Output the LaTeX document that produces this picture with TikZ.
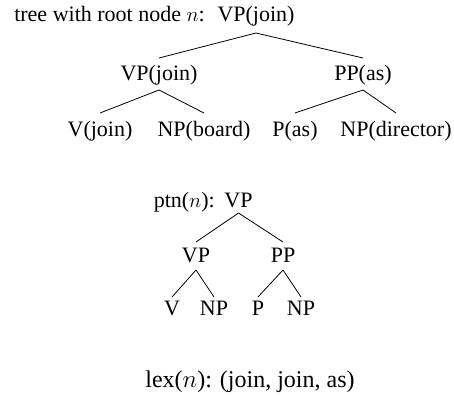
\documentclass[tikz,border=0pt]{standalone}
\usepackage{fontspec}
\setmainfont{Liberation Serif}
\begin{document}
\begin{tikzpicture}[x=1pt,y=-1pt,
  lbl/.style={anchor=base,inner sep=0pt,font=\fontsize{22}{25}\selectfont},
  big/.style={anchor=base,inner sep=0pt,font=\fontsize{24}{28}\selectfont},
  edge/.style={line width=0.8pt}]
\useasboundingbox (0,0) rectangle (454,396);
% tree 1
\node[lbl] (r) at (256,22) {VP(join)};
\node[lbl,anchor=base east] (t1) at (205,22) {tree with root node $n$:};
\node[lbl] (a) at (159,80) {VP(join)};
\node[lbl] (b) at (363,80) {PP(as)};
\node[lbl] (a1) at (100,136) {V(join)};
\node[lbl] (a2) at (204,136) {NP(board)};
\node[lbl] (b1) at (295,136) {P(as)};
\node[lbl] (b2) at (396,136) {NP(director)};
\draw[edge] ([yshift=-11]r.base) -- ([yshift=22]a.base);
\draw[edge] ([yshift=-11]r.base) -- ([yshift=22]b.base);
\draw[edge] ([yshift=-10]a.base) -- ([yshift=23]a1.base);
\draw[edge] ([yshift=-10]a.base) -- ([yshift=23]a2.base);
\draw[edge] ([yshift=-10]b.base) -- ([yshift=23]b1.base);
\draw[edge] ([yshift=-10]b.base) -- ([yshift=23]b2.base);
% tree 2
\node[lbl] (p) at (238.5,207) {VP};
\node[lbl,anchor=base east] (t2) at (215,207) {ptn($n$):};
\node[lbl] (c) at (196,262) {VP};
\node[lbl] (d) at (283,262) {PP};
\node[lbl] (c1) at (172,315) {V};
\node[lbl] (c2) at (214,315) {NP};
\node[lbl] (d1) at (258,315) {P};
\node[lbl] (d2) at (301,315) {NP};
\draw[edge] ([yshift=-6]p.base) -- ([yshift=20]c.base);
\draw[edge] ([yshift=-6]p.base) -- ([yshift=20]d.base);
\draw[edge] ([yshift=-8]c.base) -- ([yshift=18]c1.base);
\draw[edge] ([yshift=-8]c.base) -- ([yshift=18]c2.base);
\draw[edge] ([yshift=-8]d.base) -- ([yshift=18]d1.base);
\draw[edge] ([yshift=-8]d.base) -- ([yshift=18]d2.base);
% lex
\node[big] (lx) at (250,387) {lex($n$): (join, join, as)};
\end{tikzpicture}
\end{document}
